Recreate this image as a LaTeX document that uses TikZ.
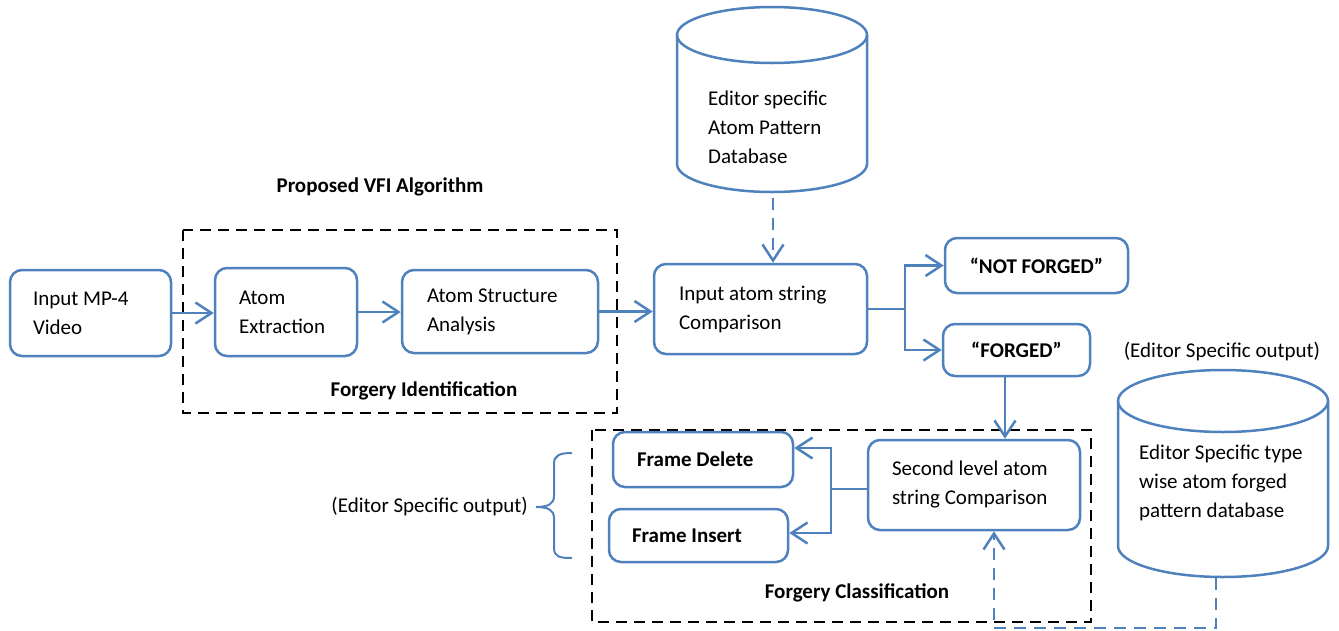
\documentclass[tikz,border=0pt]{standalone}
\usepackage{fontspec}
\setmainfont{Carlito}
\usetikzlibrary{arrows.meta}
\definecolor{ablue}{HTML}{4F81BD}
\newcommand{\fs}{\fontsize{21}{29}\selectfont}
\begin{document}
\begin{tikzpicture}[x=1pt,y=-1pt,
  box/.style={draw=ablue, line width=2.5pt, rounded corners=12pt, align=flush left, font=\fs, inner sep=0pt},
  bbox/.style={box, align=flush center, font=\fs\bfseries},
  txt/.style={font=\fs, inner sep=0pt, align=flush left},
  btxt/.style={font=\fs\bfseries, inner sep=0pt},
  line/.style={draw=ablue, line width=2.5pt},
  conn/.style={line, -{Straight Barb[length=16pt, width=21pt, line width=2.5pt]}},
  bdash/.style={dash pattern=on 12pt off 8pt},
  frame/.style={draw=black, line width=2.4pt, dash pattern=on 11pt off 7pt},
  cyl/.style={draw=ablue, line width=2.5pt}
]
\useasboundingbox (0,0) rectangle (1339,630);

% dashed frames
\draw[frame] (183,230) rectangle (617,413);
\draw[frame] (592,430) rectangle (1091,622);

% top cylinder
\draw[cyl] (677,35) -- (677,164) arc[start angle=180, end angle=360, x radius=95pt, y radius=28pt] -- (867,35);
\draw[cyl] (772,35) ellipse[x radius=95pt, y radius=28pt];
\node[txt, anchor=west, text width=150pt] (db1) at (708,127) {Editor specific\\Atom Pattern\\Database};

% right cylinder
\draw[cyl] (1118,401) -- (1118,546) arc[start angle=180, end angle=360, x radius=105pt, y radius=31pt] -- (1328,401);
\draw[cyl] (1223,401) ellipse[x radius=105pt, y radius=31pt];
\node[txt, anchor=west, text width=180pt] (db2) at (1139,483) {Editor Specific type\\wise atom forged\\pattern database};

% boxes
\node[box, minimum width=161pt, minimum height=86pt, text width=115pt] (mp4) at (90.5,313) {Input MP-4\\Video};
\node[box, minimum width=142pt, minimum height=88pt, text width=94pt] (ext) at (286,312) {Atom\\Extraction};
\node[box, minimum width=196pt, minimum height=83pt, text width=146pt] (asa) at (500,311.5) {Atom Structure\\Analysis};
\node[box, minimum width=213pt, minimum height=90pt, text width=163pt] (ias) at (760.5,309) {Input atom string\\Comparison};
\node[bbox, minimum width=183pt, minimum height=55pt] (nf) at (1036.5,265.5) {“NOT FORGED”};
\node[bbox, minimum width=147pt, minimum height=52pt] (fg) at (1016.5,350) {“FORGED”};
\node[box, font=\fs\bfseries, minimum width=180pt, minimum height=55pt, text width=132pt] (fd) at (703,459.5) {Frame Delete};
\node[box, font=\fs\bfseries, minimum width=179pt, minimum height=53pt, text width=133pt] (fi) at (698.5,535.5) {Frame Insert};
\node[box, minimum width=212pt, minimum height=90pt, text width=164pt] (sl) at (974,485) {Second level atom\\string Comparison};

% labels
\node[btxt] (pva) at (380,187) {Proposed VFI Algorithm};
\node[btxt] (fid) at (424,391) {Forgery Identification};
\node[btxt] (fcl) at (857,593) {Forgery Classification};
\node[txt] (eso1) at (1222,352) {(Editor Specific output)};
\node[txt, anchor=east] (eso2) at (528,507) {(Editor Specific output)};

% brace
\draw[draw=ablue, line width=2pt] (572,453) .. controls (560,453) and (554,455) .. (554,464) -- (554,496)
  .. controls (554,504) and (548,507) .. (536,507)
  .. controls (548,507) and (554,510) .. (554,518) -- (554,548)
  .. controls (554,557) and (560,558) .. (572,558);

% connectors
\draw[conn] (mp4.east) -- (mp4.east -| ext.west);
\draw[conn] (ext.east) -- (ext.east -| asa.west);
\draw[conn] (asa.east) -- (asa.east -| ias.west);
\coordinate (j1) at (905,309);
\draw[line] (ias.east) -- (j1);
\draw[conn] (j1) |- (nf.west);
\draw[conn] (j1) |- (fg.west);

\coordinate (db1b) at (773,198);
\draw[conn, bdash] (db1b) -- (db1b |- ias.north);

\coordinate (fx) at (1005,400);
\draw[conn] (fx |- fg.south) -- (fx |- sl.north);

\coordinate (j3) at (831,489);
\coordinate (ad) at (0,448);
\coordinate (ai) at (0,533);
\draw[line] (sl.west |- j3) -- (j3);
\draw[conn] (j3) |- (fd.east |- ad);
\draw[conn] (j3) |- (fi.east |- ai);

\coordinate (db2b) at (1216,578);
\coordinate (c1) at (1216,628);
\coordinate (c2) at (994,628);
\draw[conn, bdash] (db2b) -- (c1) -- (c2) -- (c2 |- sl.south);
\end{tikzpicture}
\end{document}
